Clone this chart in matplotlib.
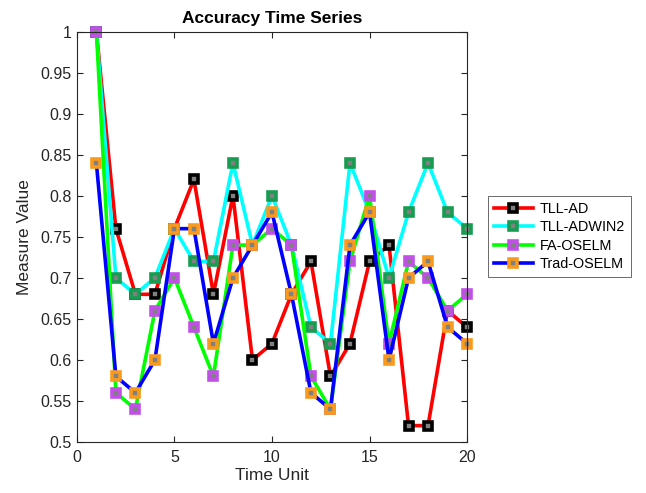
import matplotlib
matplotlib.use("Agg")
import matplotlib.pyplot as plt
from matplotlib.ticker import FormatStrFormatter, MultipleLocator

plt.rcParams['font.family'] = ['Liberation Sans', 'DejaVu Sans']

time_unit = list(range(1, 21))
tll_ad = [1.00, 0.76, 0.68, 0.68, 0.76, 0.82, 0.68, 0.80, 0.60, 0.62,
          0.68, 0.72, 0.58, 0.62, 0.72, 0.74, 0.52, 0.52, 0.66, 0.64]
tll_adwin2 = [1.00, 0.70, 0.68, 0.70, 0.76, 0.72, 0.72, 0.84, 0.74, 0.80,
              0.74, 0.64, 0.62, 0.84, 0.78, 0.70, 0.78, 0.84, 0.78, 0.76]
fa_oselm = [1.00, 0.56, 0.54, 0.66, 0.70, 0.64, 0.58, 0.74, 0.74, 0.76,
            0.74, 0.58, 0.54, 0.72, 0.80, 0.62, 0.72, 0.70, 0.66, 0.68]
trad_oselm = [0.84, 0.58, 0.56, 0.60, 0.76, 0.76, 0.62, 0.70, 0.74, 0.78,
              0.68, 0.56, 0.54, 0.74, 0.78, 0.60, 0.70, 0.72, 0.64, 0.62]
series_names = ['TLL-AD', 'TLL-ADWIN2', 'FA-OSELM', 'Trad-OSELM']

line_colors = ['#FF0000', '#00FFFF', '#00FF00', '#0000FF']
edge_colors = ['#000000', '#179C52', '#C24FE8', '#F99A1C']

fig = plt.figure(figsize=(6.46, 4.93), dpi=100)
ax = fig.add_axes([0.119, 0.1034, 0.604, 0.8323])

for data, name, lc, ec in zip([tll_ad, tll_adwin2, fa_oselm, trad_oselm],
                              series_names, line_colors, edge_colors):
    ax.plot(time_unit, data, color=lc, linewidth=2.6, marker='s',
            markersize=5.2, markerfacecolor='#808080', markeredgecolor=ec,
            markeredgewidth=2.6, label=name, clip_on=False)

ax.set_xlim(0, 20)
ax.set_ylim(0.5, 1.0)
ax.xaxis.set_major_locator(MultipleLocator(5))
ax.yaxis.set_major_locator(MultipleLocator(0.05))
ax.yaxis.set_major_formatter(FormatStrFormatter('%g'))
ax.tick_params(direction='in', top=True, right=True, length=4,
               width=0.8, colors='#262626', labelsize=11.5)
ax.tick_params(axis='x', pad=6)
ax.tick_params(axis='y', pad=4)
for sp in ax.spines.values():
    sp.set_color('#262626')
    sp.set_linewidth(0.8)

ax.set_title('Accuracy Time Series', fontsize=12.5, fontweight='bold', pad=6)
ax.set_xlabel('Time Unit', fontsize=12.5, color='#262626', labelpad=2)
ax.set_ylabel('Measure Value', fontsize=12.5, color='#262626', labelpad=6)

leg = fig.legend(loc='center left', bbox_to_anchor=(0.744, 0.52),
                 fontsize=10.4, frameon=True, fancybox=False,
                 edgecolor='#262626', handlelength=2.7, borderpad=0.4,
                 labelspacing=0.3, handletextpad=0.5)
leg.get_frame().set_linewidth(0.6)

fig.savefig('out.png', dpi=100)
